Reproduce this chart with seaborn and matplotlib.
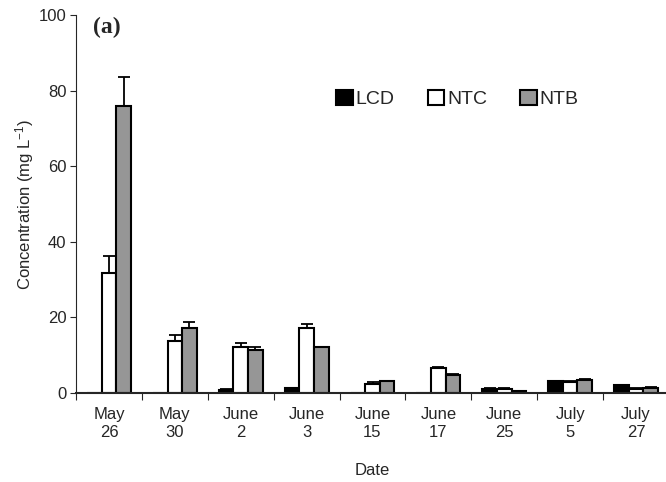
import matplotlib
matplotlib.use("Agg")
import matplotlib.pyplot as plt
import seaborn as sns
import pandas as pd
import numpy as np
from matplotlib.patches import Patch

dates = ["May\n26", "May\n30", "June\n2", "June\n3", "June\n15", "June\n17", "June\n25", "July\n5", "July\n27"]
series = ["LCD", "NTC", "NTB"]
lcd = [0.0, 0.0, 0.7, 1.2, 0.0, 0.1, 1.1, 3.2, 2.1]
ntc = [31.8, 13.8, 12.1, 17.2, 2.5, 6.6, 1.0, 2.8, 1.0]
ntb = [75.9, 17.3, 11.4, 12.2, 3.1, 4.8, 0.5, 3.5, 1.4]
lcd_err = [0.0, 0.0, 0.4, 0.0, 0.0, 0.0, 0.1, 0.1, 0.1]
ntc_err = [4.5, 1.5, 1.1, 1.1, 0.5, 0.4, 0.2, 0.4, 0.2]
ntb_err = [7.6, 1.6, 0.8, 0.0, 0.2, 0.3, 0.1, 0.1, 0.3]
colors = ["#000000", "#ffffff", "#969696"]

sns.set_theme(style="ticks")
plt.rcParams["font.family"] = ["Liberation Sans", "DejaVu Sans"]
plt.rcParams["mathtext.fontset"] = "custom"
plt.rcParams["mathtext.rm"] = "Liberation Sans"
plt.rcParams["mathtext.it"] = "Liberation Sans"

rows = []
for s, vals in zip(series, [lcd, ntc, ntb]):
    for d, v in zip(dates, vals):
        rows.append({"Date": d, "Series": s, "Value": v})
df = pd.DataFrame(rows)

fig = plt.figure(figsize=(6.66, 4.82), dpi=100)
ax = fig.add_axes([76 / 666, 1 - 393 / 482, (669 - 76) / 666, (393 - 15) / 482])

sns.barplot(data=df, x="Date", y="Value", hue="Series", order=dates, hue_order=series,
            palette=colors, width=0.665, edgecolor="black", linewidth=1.5,
            errorbar=None, ax=ax, legend=False, saturation=1)

errs = [lcd_err, ntc_err, ntb_err]
for cont, err in zip(ax.containers, errs):
    xs, ys, es = [], [], []
    for bar, e in zip(cont, err):
        if e > 0:
            xs.append(bar.get_x() + bar.get_width() / 2)
            ys.append(bar.get_height())
            es.append(e)
    es = np.array(es)
    ax.errorbar(xs, ys, yerr=[np.zeros_like(es), es], fmt="none", ecolor="black",
                elinewidth=1.3, capsize=4.5, capthick=1.3, zorder=1)

ax.set_ylim(0, 100)
ax.set_xlim(-0.5, len(dates) - 0.5)
ax.set_yticks([0, 20, 40, 60, 80, 100])
ax.tick_params(axis="y", labelsize=12, length=4, width=0.8, direction="out", pad=3)
ax.set_xticks(np.arange(len(dates)))
ax.set_xticklabels(dates, fontsize=12, linespacing=1.3)
ax.tick_params(axis="x", which="major", length=0, pad=10)
ax.set_xticks(np.arange(-0.5, len(dates), 1.0), minor=True)
ax.tick_params(axis="x", which="minor", length=5, width=0.8, direction="out")
ax.set_xlabel("Date", fontsize=12, labelpad=16)
ax.set_ylabel("Concentration (mg L$^{-1}$)", fontsize=12, labelpad=2)
sns.despine(ax=ax)
ax.spines["left"].set_linewidth(0.8)
ax.spines["bottom"].set_linewidth(1.5)

handles = [Patch(facecolor=c, edgecolor="black", linewidth=1.5) for c in colors]
ax.legend(handles, series, ncol=3, frameon=False, fontsize=14, handlelength=0.85,
          handleheight=0.85, handletextpad=0.15, columnspacing=1.7,
          loc="center left", bbox_to_anchor=((336 - 76) / 593, (393 - 99) / 378),
          borderaxespad=0, borderpad=0)

ax.text(0.029, 0.995, "(a)", transform=ax.transAxes, fontsize=17, fontweight="bold",
        family="Liberation Serif", va="top", ha="left")

fig.savefig("out.png", dpi=100)
